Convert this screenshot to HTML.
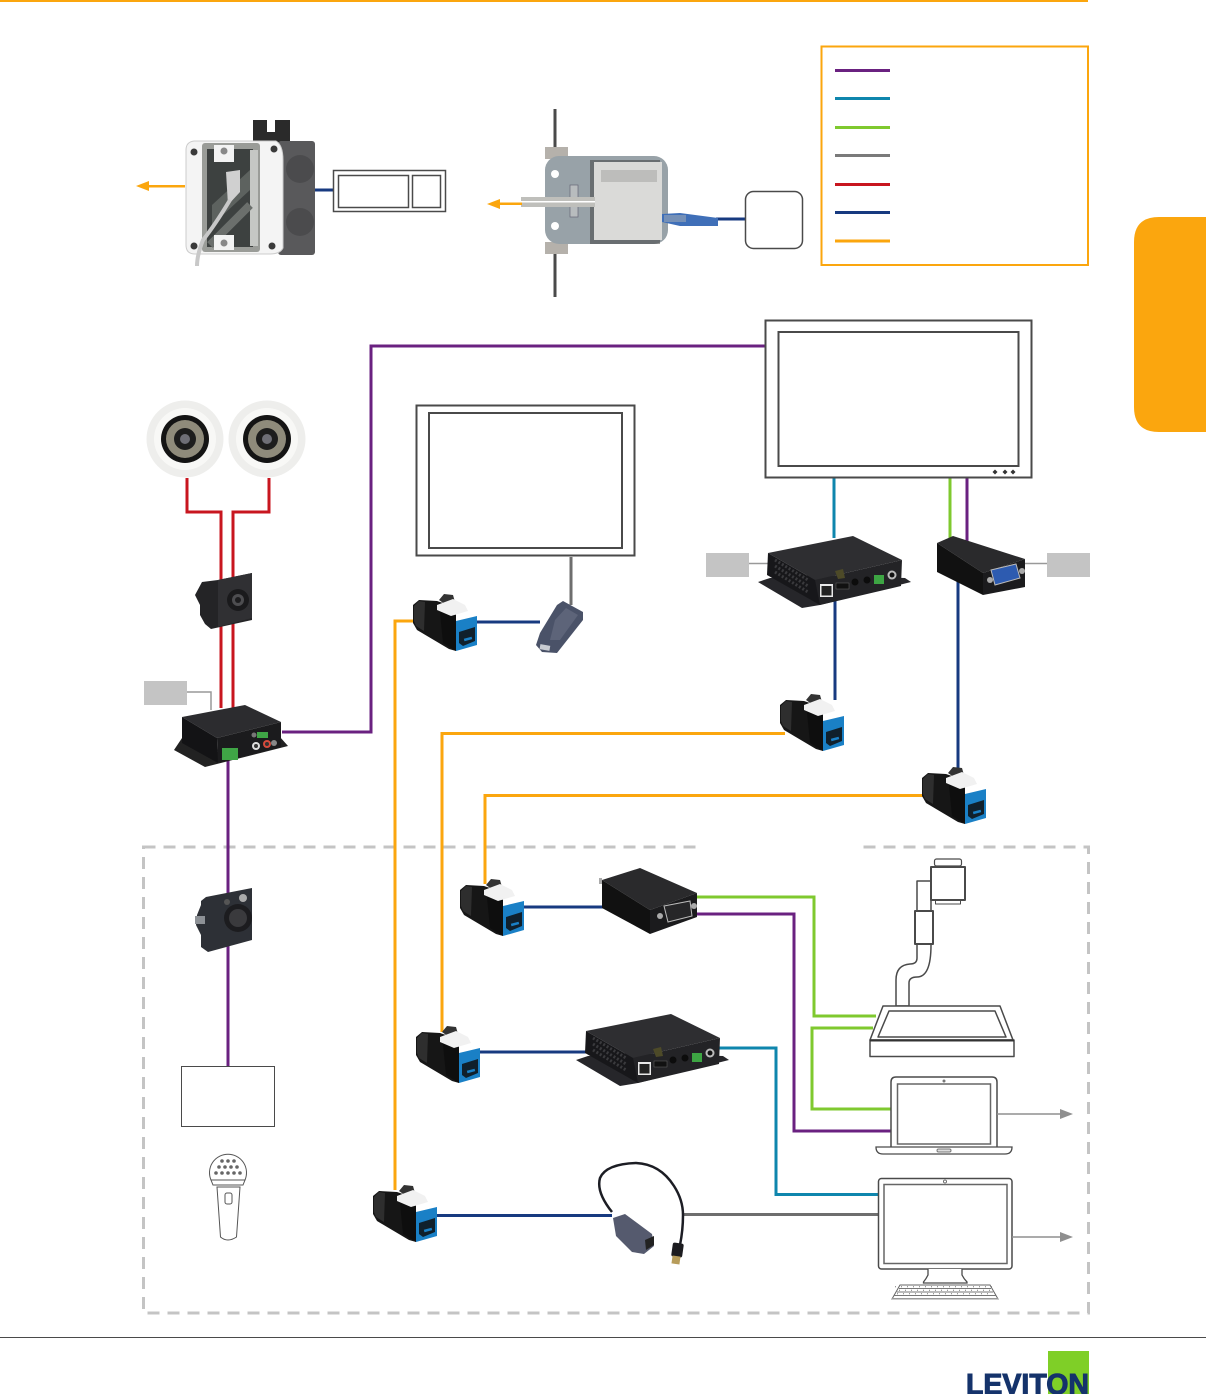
<!DOCTYPE html>
<html><head><meta charset="utf-8"><title>Diagram</title>
<style>html,body{margin:0;padding:0;background:#fff}svg{display:block}</style></head>
<body>
<svg xmlns="http://www.w3.org/2000/svg" width="1206" height="1394" viewBox="0 0 1206 1394">
<defs>
<g id="jack">
  <polygon points="0,12 6,7 24,8 30,10 43,22 43,58 36,56 4,37 0,30" fill="#161616"/>
  <polygon points="1,13 6,8 12,9 11,38 3,33 1,28" fill="#2e2e2e"/>
  <polygon points="26,10 43,22 43,58 30,50" fill="#0e0e0e"/>
  <polygon points="26,7 31,1 40,2 42,9 33,12" fill="#333"/>
  <polygon points="24,12 40,6 52,12 55,18 38,23 24,17" fill="#f1f1f1"/>
  <polygon points="43,28 64,23 64,52 43,58" fill="#1a80c6"/>
  <polygon points="46,39 62,34 62,48 50,53 46,50" fill="#10202c"/>
  <rect x="51" y="45" width="8" height="2.500" fill="#1a80c6" transform="rotate(-15 54 46)"/>
</g>
<g id="rx">
  <polygon points="758,582 802,608 820,605 911,582 905,578 815,575 770,578" fill="#26262a"/>
  <polygon points="768,553 853,536 902,560 815,580" fill="#2e2e31"/>
  <polygon points="815,580 902,560 901,586 820,605" fill="#232326"/>
  <polygon points="768,553 815,580 820,605 767,575" fill="#17171a"/>
  <path d="M775,560 L808,580 M775,566 L808,586 M775,572 L808,592" stroke="#3a3a3d" stroke-width="3" fill="none" stroke-dasharray="2 2"/>
  <rect x="820" y="584" width="13" height="13" fill="#e8e8e8"/><rect x="821.500" y="586" width="10" height="9.500" fill="#222"/>
  <rect x="836" y="583" width="13" height="6" fill="#111" stroke="#666" stroke-width=".5"/>
  <circle cx="855" cy="582" r="3.500" fill="#0c0c0c"/><circle cx="867" cy="580" r="3.500" fill="#0c0c0c"/>
  <rect x="874" y="575" width="10" height="9" fill="#3da543"/>
  <circle cx="892" cy="575" r="4.500" fill="#bbb"/><circle cx="892" cy="575" r="2.500" fill="#111"/>
  <polygon points="835,571 843,569 845,578 838,579" fill="#4d4a28"/>
</g>
</defs>

<rect x="0" y="0" width="1088" height="2" fill="#fba60e"/>
<rect x="0" y="1337" width="1206" height="1" fill="#4a4a4a"/>
<path d="M1206,217 H1159 Q1134,217 1134,242 V407 Q1134,432 1159,432 H1206 Z" fill="#fba60e"/>

<!-- legend -->
<rect x="821.500" y="46.500" width="266.500" height="218.500" fill="#fff" stroke="#fba60e" stroke-width="2"/>
<g stroke-width="3" fill="none">
  <path d="M835,70.500H890" stroke="#6a2180"/>
  <path d="M835,98.500H890" stroke="#0f86ad"/>
  <path d="M835,127.500H890" stroke="#7fc92f"/>
  <path d="M835,155.500H890" stroke="#7a7a7a"/>
  <path d="M835,184.500H890" stroke="#c8161f"/>
  <path d="M835,212.500H890" stroke="#173a80"/>
  <path d="M835,241H890" stroke="#fba60e"/>
</g>

<!-- dashed enclosure -->
<rect x="143.500" y="847" width="945" height="466" fill="none" stroke="#c4c4c4" stroke-width="3" stroke-dasharray="12 8"/>
<rect x="701" y="842" width="160" height="10" fill="#fff"/>

<!-- connectors -->
<g fill="none" stroke-width="3">
  <path d="M282,732H371V346H765" stroke="#6a2180"/>
  <path d="M228,755V1066" stroke="#6a2180"/>
  <path d="M187,478V512H221V708" stroke="#c8161f"/>
  <path d="M269,478V512H233V708" stroke="#c8161f"/>
  <path d="M834,478V538" stroke="#0f86ad"/>
  <path d="M950,478V542" stroke="#7fc92f"/>
  <path d="M967,478V542" stroke="#6a2180"/>
  <path d="M835,600V700" stroke="#173a80"/>
  <path d="M958,580V772" stroke="#173a80"/>
  <path d="M413,621H395V1190" stroke="#fba60e"/>
  <path d="M785,733.500H442V1032" stroke="#fba60e"/>
  <path d="M925,795.500H485V884" stroke="#fba60e"/>
  <path d="M475,622H540" stroke="#173a80"/>
  <path d="M571,557V605" stroke="#6e6e6e"/>
  <path d="M522,907H605" stroke="#173a80"/>
  <path d="M696,897H814V1016H876" stroke="#7fc92f"/>
  <path d="M696,914H794V1131H891" stroke="#6a2180"/>
  <path d="M891,1109H812V1028H873" stroke="#7fc92f"/>
  <path d="M478,1052H588" stroke="#173a80"/>
  <path d="M718,1048H776V1194.500H879" stroke="#0f86ad"/>
  <path d="M435,1215.500H612" stroke="#173a80"/>
  <path d="M683,1214.500H879" stroke="#6e6e6e"/>
  <path d="M314,190H334" stroke="#173a80"/>
  <path d="M716,219H746" stroke="#173a80"/>
</g>
<g fill="none" stroke="#999" stroke-width="1.500">
  <path d="M187,692H211V710"/>
  <path d="M749,563.500H772"/>
  <path d="M1024,563.500H1047"/>
</g>
<g fill="#c4c4c4">
  <rect x="144" y="681" width="43" height="24"/>
  <rect x="706" y="553" width="43" height="24"/>
  <rect x="1047" y="553" width="43" height="24"/>
</g>

<!-- top-left box photo -->
<path d="M253,120h14v12h8v-12h15v24h-37z" fill="#2a2a2a"/>
<rect x="278" y="141" width="37" height="114" rx="3" fill="#59595b"/>
<circle cx="300" cy="169" r="14" fill="#4b4b4d"/><circle cx="300" cy="222" r="14" fill="#4b4b4d"/>
<path d="M194,141H276Q283,145 283,160V248Q280,254 270,254H195Q186,254 186,245V150Q186,142 194,141Z" fill="#f4f4f4" stroke="#ccc"/>
<rect x="202" y="143" width="58" height="109" rx="3" fill="#9a9c98"/>
<rect x="207" y="149" width="46" height="98" fill="#3d4140"/>
<rect x="250" y="150" width="8" height="96" fill="#c5c7c4"/>
<polygon points="212,225 250,190 250,170 212,205" fill="#5d625f"/>
<path d="M250,205L210,245" stroke="#6b6f6c" stroke-width="8"/>
<rect x="214" y="145" width="20" height="17" fill="#f3f3f3"/><circle cx="224" cy="151" r="3.500" fill="#888"/>
<rect x="214" y="235" width="20" height="15" fill="#f3f3f3"/><circle cx="224" cy="243" r="3.500" fill="#888"/>
<polygon points="226,172 240,170 240,192 228,205" fill="#d0d0d0"/>
<path d="M230,200Q215,225 203,240Q197,255 197,266" fill="none" stroke="#c8c8c8" stroke-width="4"/>
<g fill="#3a3a3a"><circle cx="194" cy="152" r="3.500"/><circle cx="274" cy="149" r="3.500"/><circle cx="194" cy="246" r="3.500"/><circle cx="272" cy="246" r="3.500"/></g>
<rect x="149" y="185" width="36" height="2.500" fill="#fba60e"/>
<polygon points="136,186 149,181 149,191" fill="#fba60e"/>
<g fill="#fff" stroke="#4a4a4a" stroke-width="1.500">
  <rect x="333.500" y="170.500" width="112" height="41"/>
  <rect x="338.500" y="175.500" width="70" height="32"/>
  <rect x="412.500" y="175.500" width="28" height="32"/>
</g>

<!-- top middle box photo -->
<rect x="553.500" y="109" width="3" height="188" fill="#4a4a4a"/>
<rect x="545" y="147" width="23" height="12" fill="#b5b1ab"/>
<rect x="545" y="242" width="23" height="12" fill="#b5b1ab"/>
<rect x="545" y="156" width="123" height="88" rx="14" fill="#98a2a8"/>
<rect x="590" y="160" width="70" height="84" fill="#3a3a3a" opacity=".5"/>
<ellipse cx="555" cy="174" rx="4" ry="4" fill="#fff"/><ellipse cx="555" cy="226" rx="4" ry="4" fill="#fff"/>
<rect x="570" y="185" width="8" height="32" fill="#b8bcbe" stroke="#667" stroke-width=".7"/>
<rect x="594" y="162" width="68" height="78" fill="#dadad8"/>
<rect x="601" y="170" width="56" height="12" fill="#bdbdbb"/>
<rect x="521" y="197" width="74" height="10" fill="#bfbfbb"/>
<rect x="521" y="201" width="74" height="1.500" fill="#fff"/>
<polygon points="662,214 680,213 718,218 718,226 680,226 662,222" fill="#3f6fb8"/>
<rect x="664" y="215" width="22" height="7" fill="#9aa6b6" opacity=".6"/>
<rect x="500" y="202.500" width="22" height="2.500" fill="#fba60e"/>
<polygon points="487,204 500,199 500,209" fill="#fba60e"/>
<rect x="745.500" y="191.500" width="57" height="57" rx="8" fill="#fff" stroke="#4a4a4a" stroke-width="1.500"/>

<!-- speakers -->
<g>
  <circle cx="185" cy="439" r="38.500" fill="#eeeeec"/><circle cx="185" cy="439" r="31" fill="#f8f8f6"/>
  <circle cx="185" cy="439" r="24" fill="#141414"/><circle cx="185" cy="439" r="19" fill="#8f8b7b"/>
  <circle cx="185" cy="439" r="11" fill="#1d1d1d"/><circle cx="185" cy="439" r="5" fill="#6e6e76"/>
  <circle cx="267" cy="439" r="38.500" fill="#eeeeec"/><circle cx="267" cy="439" r="31" fill="#f8f8f6"/>
  <circle cx="267" cy="439" r="24" fill="#141414"/><circle cx="267" cy="439" r="19" fill="#8f8b7b"/>
  <circle cx="267" cy="439" r="11" fill="#1d1d1d"/><circle cx="267" cy="439" r="5" fill="#6e6e76"/>
</g>

<!-- speakON plate -->
<polygon points="218,580 252,573 252,620 211,629 205,624 200,615 200,605 195,595 202,582" fill="#242426"/>
<polygon points="218,580 252,573 252,618 218,627" fill="#303033"/>
<circle cx="238" cy="600" r="11" fill="#1a1a1c"/><circle cx="238" cy="600" r="6" fill="#4d4d50"/><circle cx="238" cy="600" r="3" fill="#1c1c1e"/>

<!-- XLR plate -->
<polygon points="206,897 252,888 252,940 208,952 201,947 201,935 196,925 197,915 201,905 201,901" fill="#2d3036"/>
<rect x="195" y="916" width="10" height="8" fill="#8d9196"/>
<circle cx="238" cy="918" r="14" fill="#1c1c1f"/><circle cx="238" cy="918" r="9" fill="#3a3a3d"/>
<circle cx="243" cy="898" r="4" fill="#aaa"/>
<circle cx="227" cy="902" r="3" fill="#555"/>

<!-- amp -->
<polygon points="174,750 205,767 288,746 280,737 217,752 184,735" fill="#222"/>
<polygon points="182,717 245,705 281,722 217,738" fill="#2c2c2f"/>
<polygon points="217,738 281,722 281,747 218,763" fill="#1b1b1d"/>
<polygon points="182,717 217,738 218,763 182,743" fill="#131315"/>
<rect x="222" y="748" width="16" height="12" fill="#3fa546"/>
<rect x="257" y="732" width="11" height="6" fill="#3fa546"/>
<circle cx="254" cy="735" r="2.500" fill="#777"/>
<circle cx="256" cy="746" r="4" fill="#ddd"/><circle cx="256" cy="746" r="2" fill="#333"/>
<circle cx="267" cy="744" r="4" fill="#d64a3c"/><circle cx="267" cy="744" r="2" fill="#333"/>
<circle cx="274" cy="743" r="3" fill="#888"/>

<!-- rx units -->
<use href="#rx"/>
<use href="#rx" transform="translate(-182 478)"/>

<!-- VGA boxes -->
<polygon points="937,543 953,536 1025,559 983,573" fill="#2a2a2c"/>
<polygon points="983,573 1025,559 1025,587 983,595" fill="#1b1b1d"/>
<polygon points="937,543 983,573 983,595 937,572" fill="#111"/>
<polygon points="991,570 1016,564 1020,578 995,585" fill="#2d5bb0" stroke="#bbb"/>
<circle cx="990" cy="580" r="3" fill="#aaa"/><circle cx="1022" cy="571" r="3" fill="#aaa"/>

<polygon points="602,880 640,868 697,893 650,910" fill="#2a2a2c"/>
<polygon points="650,910 697,893 697,917 650,934" fill="#1b1b1d"/>
<polygon points="602,880 650,910 650,934 602,908" fill="#111"/>
<polygon points="664,906 690,901 692,916 668,922" fill="#262628" stroke="#bbb"/>
<circle cx="660" cy="916" r="3" fill="#aaa"/><circle cx="694" cy="906" r="3" fill="#aaa"/>
<rect x="599" y="878" width="3" height="6" fill="#aaa"/>

<!-- jacks -->
<use href="#jack" x="413" y="593"/>
<use href="#jack" x="780" y="693"/>
<use href="#jack" x="922" y="766"/>
<use href="#jack" x="460" y="878"/>
<use href="#jack" x="416" y="1025"/>
<use href="#jack" x="373" y="1184"/>

<!-- small adapter -->
<polygon points="563,601 583,612 583,620 557,653 542,652 536,645 540,633 557,605" fill="#4a5268"/>
<polygon points="566,608 578,615 560,640 550,640 555,620" fill="#5d6479"/>
<rect x="540" y="645" width="10" height="5" fill="#c9ccd2" transform="rotate(10 545 647)"/>

<!-- USB adapter -->
<path d="M612,1212Q596,1192 600,1178Q606,1164 636,1163Q660,1164 674,1186Q683,1200 683,1215Q683,1230 680,1245" fill="none" stroke="#1c1d24" stroke-width="2.500"/>
<polygon points="613,1218 625,1214 652,1234 654,1246 644,1254 632,1252 616,1236" fill="#555a6e"/>
<polygon points="645,1240 654,1236 654,1245 646,1250" fill="#222"/>
<rect x="672" y="1243" width="11" height="14" rx="2" fill="#1c1c20" transform="rotate(8 677 1250)"/>
<rect x="672" y="1256" width="8" height="8" fill="#b79c5a" transform="rotate(8 676 1260)"/>

<!-- displays -->
<g fill="#fff" stroke="#4a4a4a">
  <rect x="765.500" y="320.500" width="266" height="157" stroke-width="2"/>
  <rect x="778.500" y="332" width="240" height="134" stroke-width="2"/>
  <rect x="416.500" y="405.500" width="218" height="150" stroke-width="2"/>
  <rect x="429" y="413" width="193" height="135" stroke-width="2"/>
</g>
<g fill="#333"><polygon points="995,469.500 997.500,472 995,474.500 992.500,472"/><polygon points="1005,469.500 1007.500,472 1005,474.500 1002.500,472"/><polygon points="1013,469.500 1015.500,472 1013,474.500 1010.500,472"/></g>

<!-- doc camera -->
<g fill="#fff" stroke="#4a4a4a" stroke-linejoin="round">
  <path d="M896,1006V980Q896,965 910,964Q917,964 917,958V881H931V945H931Q931,977 917,977Q909,977 909,983V1006Z" stroke-width="1.500"/>
  <rect x="915" y="911" width="18" height="33" stroke-width="2"/>
  <rect x="934.500" y="859" width="27" height="7" rx="2" stroke-width="1.200"/>
  <rect x="935.500" y="900" width="25" height="4" stroke-width="1"/>
  <rect x="931" y="867" width="34" height="33" stroke-width="2"/>
  <polygon points="883,1006 1000,1006 1013,1040 870,1040" stroke-width="1.500"/>
  <polygon points="889,1011 995,1011 1006,1037 878,1037" stroke-width="1.500"/>
  <rect x="870" y="1040" width="144" height="16.500" stroke-width="1.500"/>
</g>
<rect x="870" y="1039.500" width="144" height="2" fill="#333"/>

<!-- laptop -->
<g fill="#fff" stroke="#4a4a4a">
  <path d="M891,1147V1082Q891,1077 896,1077H992Q997,1077 997,1082V1147" stroke-width="1.500"/>
  <rect x="897.500" y="1084" width="93" height="60" stroke="#666" stroke-width="1.500"/>
  <path d="M876,1147H1012Q1012,1154 1005,1154H883Q876,1154 876,1147Z" stroke-width="1.300"/>
  <rect x="937" y="1149" width="14" height="3" rx="1.500" stroke-width="1" stroke="#777" fill="#ddd"/>
</g>
<circle cx="944" cy="1081" r="1.500" fill="#777"/>
<path d="M997,1114H1060" stroke="#8f8f8f" stroke-width="1.500"/>
<polygon points="1060,1109 1073,1114 1060,1119" fill="#8f8f8f"/>

<!-- iMac -->
<g fill="#fff" stroke="#4a4a4a">
  <rect x="878.500" y="1178.500" width="133.500" height="90.500" rx="3" stroke-width="1.500"/>
  <rect x="884" y="1184.500" width="123" height="79" stroke="#666" stroke-width="1.500"/>
  <path d="M928,1269V1275Q926,1279 923.500,1282V1283H967V1282Q964,1279 962,1275V1269" stroke-width="1.300"/>
  <polygon points="900,1285 990,1285 998,1299 892,1299" stroke="#666" stroke-width="1"/>
</g>
<rect x="892" y="1298" width="106" height="1.500" fill="#999"/>
<circle cx="945" cy="1181.500" r="1.500" fill="none" stroke="#555" stroke-width=".8"/>
<g stroke="#777" stroke-width="1" fill="none">
  <path d="M899,1288.500H991M897,1292H993M894.500,1295.500H995.500"/>
  <path d="M899,1290.200H991" stroke-dasharray="1 5"/><path d="M897,1293.700H993" stroke-dasharray="1 5"/><path d="M895,1286.800H995" stroke-dasharray="1 5"/>
</g>
<path d="M1012,1237H1060" stroke="#8f8f8f" stroke-width="1.500"/>
<polygon points="1060,1232 1073,1237 1060,1242" fill="#8f8f8f"/>

<!-- mic box -->
<rect x="181.500" y="1066.500" width="93" height="60" fill="#fff" stroke="#4a4a4a" stroke-width="1"/>

<!-- mic icon -->
<g fill="#fff" stroke="#555" stroke-width="1">
  <path d="M211,1180A18.500,18.500 0 1 1 245,1180Z"/>
  <path d="M211,1180H245L243,1185H213Z"/>
  <path d="M217,1187H240L236.500,1237Q232,1240 228,1240Q224,1240 220.500,1237Z"/>
  <rect x="225" y="1193" width="7" height="11" rx="2"/>
</g>
<g fill="#666">
  <circle cx="222" cy="1161" r="1.800"/><circle cx="228" cy="1161" r="1.800"/><circle cx="234" cy="1161" r="1.800"/>
  <circle cx="219" cy="1167" r="1.800"/><circle cx="225" cy="1167" r="1.800"/><circle cx="231" cy="1167" r="1.800"/><circle cx="237" cy="1167" r="1.800"/>
  <circle cx="216" cy="1173" r="1.800"/><circle cx="222" cy="1173" r="1.800"/><circle cx="228" cy="1173" r="1.800"/><circle cx="234" cy="1173" r="1.800"/><circle cx="240" cy="1173" r="1.800"/>
</g>

<!-- logo -->
<rect x="1048" y="1351" width="41" height="43" fill="#7fcf27"/>
<text x="966" y="1394" font-family="'Liberation Sans',sans-serif" font-weight="700" font-size="29" fill="#15336b" stroke="#15336b" stroke-width="1" textLength="123" lengthAdjust="spacingAndGlyphs">LEVITON</text>
</svg>
</body></html>
